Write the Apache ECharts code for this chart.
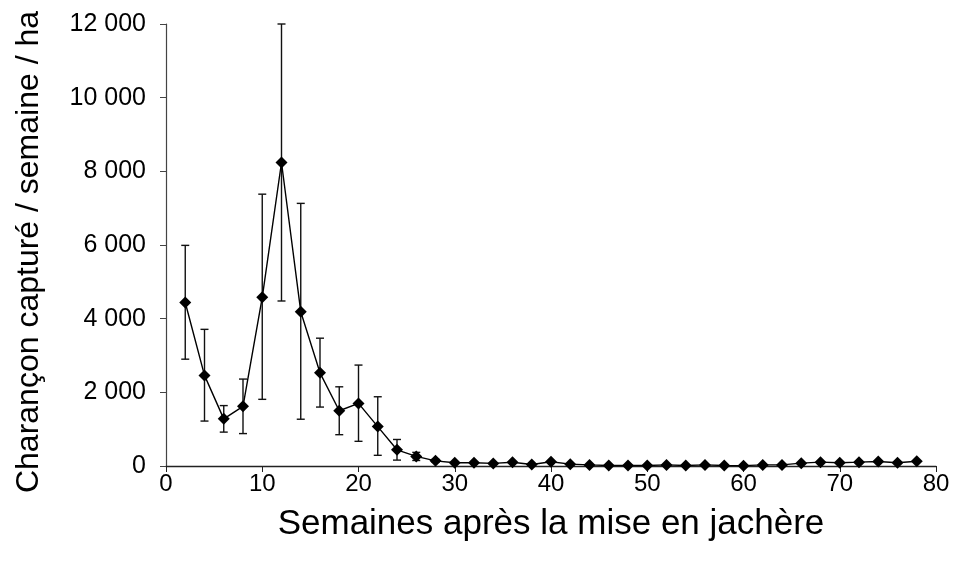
<!DOCTYPE html>
<html>
<head>
<meta charset="utf-8">
<script src="https://cdn.jsdelivr.net/npm/echarts@6/dist/echarts.min.js"></script>
<style>
  html, body { margin: 0; padding: 0; background: #fff; }
  #chart { width: 955px; height: 574px; }
</style>
</head>
<body>
<div id="chart"></div>
<script>
var myChart = echarts.init(document.getElementById('chart'));

// weeks after fallow start
const weeks = [2, 4, 6, 8, 10, 12, 14, 16, 18, 20, 22, 24, 26, 28, 30, 32, 34, 36, 38, 40,
    42, 44, 46, 48, 50, 52, 54, 56, 58, 60, 62, 64, 66, 68, 70, 72, 74, 76, 78];
// weevils caught / week / ha (mean)
const weevils = [4440, 2460, 1280, 1620, 4580, 8240, 4190, 2530, 1500, 1700, 1070, 440, 260, 140, 90, 90, 70, 100, 40, 115,
    50, 30, 15, 15, 12, 30, 14, 30, 14, 10, 30, 30, 77, 104, 87, 104, 122, 87, 130];
// error bar bounds
const errLow = [2900, 1220, 920, 880, 1810, 4480, 1270, 1600, 850, 670, 290, 160, 150, 100, 90, 90, 70, 100, 40, 115,
    50, 30, 15, 15, 12, 30, 14, 30, 14, 10, 30, 30, 77, 104, 87, 104, 122, 87, 130];
const errHigh = [5990, 3710, 1640, 2360, 7380, 12000, 7130, 3470, 2150, 2740, 1880, 720, 370, 180, 90, 90, 70, 100, 40, 115,
    50, 30, 15, 15, 12, 30, 14, 30, 14, 10, 30, 30, 77, 104, 87, 104, 122, 87, 130];

const xTicks = [0, 10, 20, 30, 40, 50, 60, 70, 80];
const yTicks = [0, 2000, 4000, 6000, 8000, 10000, 12000];

const fontFam = '"Liberation Sans", Arial, Helvetica, sans-serif';

const fmtThousands = (v) => String(v).replace(/\B(?=(\d{3})+(?!\d))/g, ' ');

const lineData = weeks.map((w, i) => [w, weevils[i]]);
const errData = weeks.map((w, i) => [w, errLow[i], errHigh[i]]);

function renderErr(params, api) {
    const x = api.value(0);
    const lo = api.coord([x, api.value(1)]);
    const hi = api.coord([x, api.value(2)]);
    const half = 4;
    const style = { stroke: '#111', lineWidth: 1.4 };
    return {
        type: 'group',
        children: [
            { type: 'line', shape: { x1: lo[0], y1: lo[1], x2: hi[0], y2: hi[1] }, style: style },
            { type: 'line', shape: { x1: lo[0] - half, y1: lo[1], x2: lo[0] + half, y2: lo[1] }, style: style },
            { type: 'line', shape: { x1: hi[0] - half, y1: hi[1], x2: hi[0] + half, y2: hi[1] }, style: style }
        ]
    };
}

option = {
    animation: false,
    grid: {
        left: 166,
        right: 19,
        top: 24,
        bottom: 108,
        containLabel: false,
        outerBoundsMode: 'none'
    },
    xAxis: {
        type: 'value',
        min: xTicks[0],
        max: xTicks[xTicks.length - 1],
        interval: 10,
        name: 'Semaines après la mise en jachère',
        nameLocation: 'middle',
        nameGap: 41,
        nameTextStyle: { fontFamily: fontFam, fontSize: 35, color: '#000' },
        axisLine: { lineStyle: { color: '#222', width: 1.3 } },
        axisTick: { show: true, inside: false, length: 6, lineStyle: { color: '#222' } },
        axisLabel: { fontFamily: fontFam, fontSize: 24, color: '#000', margin: 6 },
        splitLine: { show: false }
    },
    yAxis: {
        type: 'value',
        min: yTicks[0],
        max: yTicks[yTicks.length - 1],
        interval: 2000,
        name: 'Charançon capturé / semaine / ha',
        nameLocation: 'middle',
        nameRotate: 90,
        nameGap: 121,
        nameTextStyle: { fontFamily: fontFam, fontSize: 32, color: '#000', padding: [0, 14, 0, 0] },
        axisLine: { show: true, lineStyle: { color: '#444', width: 1.2 } },
        axisTick: { show: true, inside: false, length: 6, lineStyle: { color: '#444' } },
        axisLabel: { fontFamily: fontFam, fontSize: 25, color: '#000', margin: 20, formatter: fmtThousands },
        splitLine: { show: false }
    },
    series: [
        {
            name: 'erreur',
            type: 'custom',
            renderItem: renderErr,
            data: errData,
            encode: { x: 0, y: [1, 2] },
            z: 1
        },
        {
            name: 'charançons',
            type: 'line',
            data: lineData,
            symbol: 'diamond',
            symbolSize: 12,
            itemStyle: { color: '#000' },
            lineStyle: { color: '#000', width: 1.4 },
            z: 2
        }
    ]
};

myChart.setOption(option, true);
</script>
</body>
</html>
